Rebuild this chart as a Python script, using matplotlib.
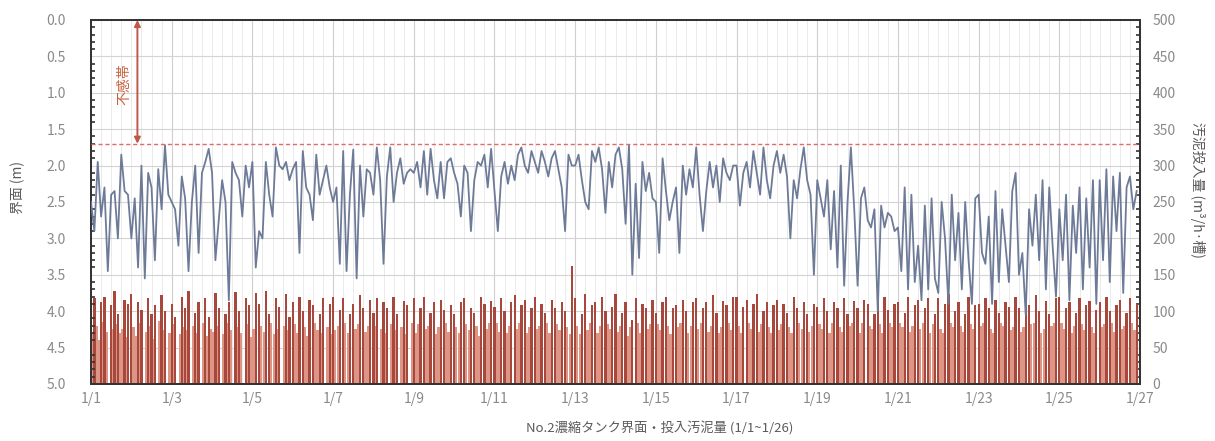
import numpy as np
import matplotlib.pyplot as plt
from matplotlib.ticker import MultipleLocator

plt.rcParams['font.family'] = ['Noto Sans CJK JP', 'DejaVu Sans']

# 界面 (m)：2時間ごと、1日12点 (1/1～1/26)
interface_m = [
    [2.5, 2.9, 1.95, 2.7, 2.3, 3.45, 2.4, 2.35, 3.0, 1.85, 2.35, 2.4],
    [3.0, 2.45, 3.4, 2.0, 3.55, 2.1, 2.3, 3.3, 2.05, 2.6, 1.72, 2.4],
    [2.5, 2.6, 3.1, 2.15, 2.45, 3.45, 2.5, 2.0, 3.2, 2.1, 1.95, 1.77],
    [2.1, 3.3, 2.75, 2.2, 2.5, 3.85, 1.95, 2.1, 2.2, 2.7, 2.0, 2.3],
    [1.95, 3.4, 2.9, 3.0, 1.95, 2.4, 2.7, 1.75, 2.0, 2.05, 1.95, 2.2],
    [2.05, 1.95, 3.2, 1.8, 2.3, 2.4, 2.75, 1.85, 2.4, 2.2, 2.0, 2.3],
    [2.5, 2.3, 3.35, 1.8, 3.45, 2.4, 1.78, 3.55, 2.0, 2.7, 2.05, 2.1],
    [2.4, 1.75, 2.2, 3.35, 2.15, 1.75, 2.5, 2.1, 1.9, 2.25, 2.1, 2.05],
    [2.1, 1.95, 2.3, 1.8, 2.4, 1.77, 2.2, 2.45, 1.95, 2.45, 1.95, 1.9],
    [2.1, 2.25, 2.7, 2.0, 2.1, 2.9, 2.2, 1.95, 2.0, 1.85, 2.3, 1.77],
    [2.35, 2.9, 2.15, 1.95, 2.25, 2.0, 2.2, 1.85, 1.75, 2.0, 2.1, 1.8],
    [1.95, 2.1, 1.8, 1.95, 2.15, 1.9, 1.8, 2.05, 2.3, 2.9, 1.85, 2.0],
    [2.0, 1.85, 2.2, 2.5, 2.6, 1.8, 1.95, 1.75, 2.05, 2.65, 1.95, 2.3],
    [1.85, 1.75, 2.05, 2.8, 1.72, 3.5, 2.25, 3.27, 1.95, 2.35, 2.1, 2.45],
    [2.5, 3.2, 1.9, 2.35, 2.75, 2.5, 2.3, 3.2, 2.0, 2.4, 2.05, 2.3],
    [1.75, 2.4, 2.9, 2.35, 1.95, 2.3, 2.0, 2.5, 1.9, 2.1, 2.2, 2.0],
    [2.0, 2.55, 2.1, 1.95, 2.3, 1.8, 2.1, 2.4, 1.75, 2.2, 2.45, 2.0],
    [1.8, 2.1, 1.85, 2.15, 3.0, 2.2, 2.45, 2.05, 1.75, 2.2, 2.4, 3.5],
    [2.2, 2.45, 2.7, 2.2, 3.15, 2.35, 3.4, 2.0, 3.65, 2.5, 1.75, 2.6],
    [3.65, 2.45, 2.3, 2.75, 2.85, 2.6, 4.0, 2.55, 2.85, 2.65, 2.7, 2.9],
    [2.85, 3.45, 2.3, 3.7, 2.4, 3.6, 3.1, 3.85, 2.55, 3.7, 2.45, 3.55],
    [3.75, 2.5, 3.0, 3.9, 2.4, 3.3, 2.65, 3.7, 2.5, 3.3, 3.9, 2.45],
    [2.4, 3.2, 3.35, 2.7, 3.9, 2.35, 3.6, 2.6, 3.1, 3.6, 2.35, 2.1],
    [3.5, 3.2, 4.05, 2.6, 3.1, 2.4, 3.3, 2.2, 3.7, 2.3, 3.1, 3.8],
    [2.6, 3.3, 2.4, 3.85, 2.55, 3.2, 2.3, 3.7, 2.45, 3.4, 2.2, 3.9],
    [2.2, 3.3, 2.05, 3.6, 2.15, 2.9, 2.1, 3.75, 2.3, 2.15, 2.6, 2.35],
]

# 投入汚泥量 (m3/h・槽)：偶数時 (濃色)
sludge_even = [
    [35, 118, 0, 112, 120, 0, 108, 128, 96, 0, 115, 110],
    [124, 0, 112, 102, 0, 118, 96, 108, 0, 122, 100, 0],
    [110, 92, 0, 120, 105, 128, 0, 98, 112, 0, 118, 92],
    [0, 125, 104, 0, 96, 112, 0, 126, 100, 0, 118, 108],
    [0, 125, 110, 0, 128, 96, 0, 118, 106, 0, 124, 92],
    [112, 0, 120, 100, 0, 115, 108, 0, 96, 118, 0, 110],
    [120, 0, 102, 118, 0, 96, 110, 0, 122, 104, 0, 116],
    [98, 118, 0, 112, 104, 0, 120, 96, 0, 114, 108, 0],
    [118, 0, 104, 120, 0, 98, 112, 0, 116, 102, 0, 108],
    [96, 0, 112, 118, 0, 104, 98, 0, 120, 110, 0, 114],
    [106, 0, 118, 100, 0, 112, 122, 0, 108, 116, 0, 104],
    [120, 0, 110, 98, 0, 116, 104, 0, 112, 100, 0, 162],
    [118, 0, 96, 124, 0, 108, 112, 0, 120, 100, 0, 106],
    [124, 0, 98, 112, 0, 88, 118, 0, 110, 104, 0, 116],
    [98, 0, 112, 120, 0, 104, 108, 0, 116, 100, 0, 112],
    [118, 0, 104, 112, 0, 122, 98, 0, 114, 108, 0, 120],
    [120, 0, 106, 116, 0, 110, 124, 0, 100, 112, 0, 108],
    [116, 0, 110, 98, 0, 120, 104, 0, 112, 96, 0, 110],
    [106, 0, 118, 100, 0, 112, 104, 0, 118, 96, 0, 114],
    [104, 0, 116, 110, 0, 96, 112, 0, 120, 102, 0, 110],
    [112, 0, 98, 120, 0, 108, 116, 0, 104, 118, 0, 96],
    [118, 0, 110, 124, 0, 100, 112, 0, 96, 120, 0, 108],
    [110, 0, 118, 104, 0, 116, 98, 0, 112, 106, 0, 120],
    [104, 0, 116, 108, 0, 122, 100, 0, 114, 96, 0, 118],
    [120, 0, 104, 112, 0, 98, 118, 0, 108, 114, 0, 102],
    [112, 0, 120, 100, 0, 108, 116, 0, 98, 118, 0, 110],
]

# 奇数時 (淡色)
sludge_odd = [
    [70, 80, 60, 85, 72, 0, 75, 82, 70, 76, 65, 0],
    [78, 66, 84, 0, 72, 80, 62, 0, 86, 74, 0, 70],
    [82, 0, 68, 78, 74, 0, 80, 70, 0, 84, 66, 76],
    [72, 80, 0, 68, 84, 74, 0, 78, 70, 0, 82, 64],
    [76, 0, 80, 72, 0, 84, 68, 76, 0, 80, 74, 0],
    [82, 70, 0, 78, 66, 0, 84, 74, 70, 0, 78, 68],
    [74, 80, 0, 84, 70, 0, 76, 82, 0, 72, 80, 0],
    [80, 0, 76, 70, 0, 82, 74, 0, 78, 68, 0, 84],
    [70, 82, 0, 76, 80, 0, 68, 78, 0, 84, 72, 0],
    [78, 70, 0, 82, 74, 0, 80, 66, 0, 76, 84, 0],
    [84, 72, 0, 70, 80, 0, 76, 84, 0, 70, 78, 0],
    [76, 80, 0, 84, 70, 0, 82, 74, 0, 78, 68, 0],
    [80, 68, 0, 74, 84, 0, 70, 80, 0, 82, 76, 0],
    [72, 80, 0, 66, 78, 0, 84, 70, 0, 76, 82, 0],
    [82, 74, 0, 80, 68, 0, 78, 84, 0, 70, 80, 0],
    [76, 84, 0, 72, 80, 0, 70, 78, 0, 84, 74, 0],
    [80, 70, 0, 84, 76, 0, 72, 82, 0, 78, 70, 0],
    [74, 82, 0, 78, 70, 0, 84, 76, 0, 72, 80, 0],
    [82, 76, 0, 70, 84, 0, 78, 72, 0, 80, 84, 0],
    [70, 84, 0, 80, 76, 0, 82, 70, 0, 84, 78, 0],
    [84, 78, 0, 72, 80, 0, 76, 84, 0, 70, 82, 0],
    [76, 70, 0, 84, 78, 0, 80, 72, 0, 82, 76, 0],
    [80, 84, 0, 76, 70, 0, 84, 80, 0, 74, 78, 0],
    [72, 78, 0, 82, 84, 0, 70, 76, 0, 80, 84, 0],
    [84, 76, 0, 70, 80, 0, 82, 74, 0, 78, 70, 0],
    [78, 82, 0, 84, 72, 0, 76, 80, 0, 84, 74, 0],
]

date_labels = ['1/1', '1/3', '1/5', '1/7', '1/9', '1/11', '1/13',
               '1/15', '1/17', '1/19', '1/21', '1/23', '1/25', '1/27']
deadband_m = 1.7

level = np.array(interface_m).ravel()
s_even = np.array(sludge_even).ravel()
s_odd = np.array(sludge_odd).ravel()
t = np.arange(level.size) * 2 / 24.0  # 経過日数

fig = plt.figure(figsize=(12.15, 4.41), dpi=100)
ax = fig.add_axes([0.0749, 0.1293, 0.8634, 0.8254])
ax2 = ax.twinx()

# 棒グラフ (右軸)
ax2.bar(t + 1 / 24, s_odd, width=1.9 / 24, color='#dd9585', linewidth=0, zorder=1)
ax2.bar(t, s_even, width=1.35 / 24, color='#a8473c', linewidth=0, zorder=2)
ax2.set_ylim(0, 500)
ax2.yaxis.set_major_locator(MultipleLocator(50))
ax2.yaxis.set_minor_locator(MultipleLocator(10))

# グリッドは棒の下に (右軸側で描く)
ax2.xaxis.set_visible(True)
ax2.set_xticks(np.arange(0, 27, 1))
ax2.xaxis.set_minor_locator(MultipleLocator(0.25))
ax2.set_axisbelow(True)
ax2.grid(which='major', axis='x', color='#cfcfcf', lw=0.8)
ax2.grid(which='minor', axis='x', color='#e6e6e6', lw=0.6)
ax2.grid(which='major', axis='y', color='#d4d4d4', lw=0.8)

# 界面 (左軸, 反転)
ax.set_zorder(ax2.get_zorder() + 1)
ax.patch.set_visible(False)
ax.grid(False)
ax.plot(t, level, color='#6e7b98', lw=1.3, zorder=3)
ax.axhline(deadband_m, color='#e06a6a', lw=1.0, ls=(0, (3, 2)), zorder=4)
ax.annotate('', xy=(1.15, 0.0), xytext=(1.15, deadband_m),
            arrowprops=dict(arrowstyle='<|-|>', color='#c0584a', lw=1.4,
                            mutation_scale=9, shrinkA=0, shrinkB=0))
ax.text(0.83, 0.88, '不感帯', rotation=90, ha='center', va='center',
        fontsize=10, color='#c8603c')
ax.set_ylim(5.0, 0.0)
ax.set_xlim(0, 26)
ax.yaxis.set_minor_locator(MultipleLocator(0.1))
ax.set_yticks(np.arange(0, 5.01, 0.5))
ax.set_yticklabels([f'{v:.1f}' for v in np.arange(0, 5.01, 0.5)])
ax.set_xticks(np.arange(0, 27, 2))
ax.set_xticklabels(date_labels)

for ax_ in (ax, ax2):
    for sp in ax_.spines.values():
        sp.set_color('#333333')
        sp.set_linewidth(1.3)

ax.tick_params(axis='y', which='major', length=0, pad=18, labelsize=10, labelcolor='#8a8a8a')
ax.tick_params(axis='y', which='minor', direction='in', length=3, width=1.2, color='#333333')
ax.tick_params(axis='x', which='both', length=0, pad=6, labelsize=10, labelcolor='#8a8a8a')
ax2.tick_params(axis='x', which='both', length=0, labelbottom=False, labeltop=False)
ax2.tick_params(axis='y', which='major', length=0, pad=9, labelsize=10, labelcolor='#8a8a8a')
ax2.tick_params(axis='y', which='minor', direction='in', length=3, width=1.2, color='#333333')

fig.text(18 / 1215, 1 - 188 / 441, '界面 (m)', rotation=90, ha='center', va='center',
         fontsize=10, color='#5a5a5a')
fig.text(1198 / 1215, 1 - 190 / 441, '汚泥投入量 (m³/h·槽)', rotation=-90,
         ha='center', va='center', fontsize=10, color='#5a5a5a')
fig.text(660 / 1215, 1 - 428 / 441, 'No.2濃縮タンク界面・投入汚泥量 (1/1~1/26)',
         ha='center', va='center', fontsize=9.5, color='#5a5a5a')

fig.savefig('out.png', dpi=100)
